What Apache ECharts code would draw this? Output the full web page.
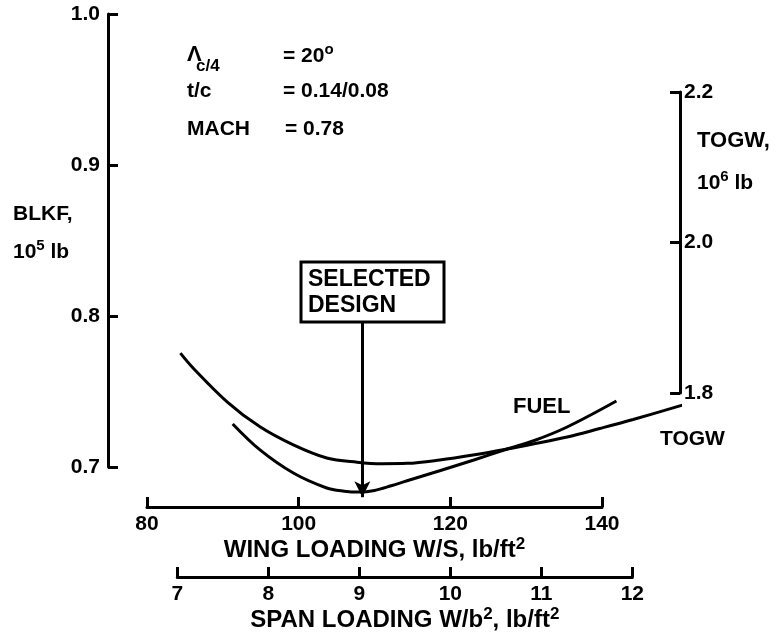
<!DOCTYPE html>
<html>
<head>
<meta charset="utf-8">
<script src="https://cdn.jsdelivr.net/npm/echarts@6/dist/echarts.min.js"></script>
<style>
html,body{margin:0;padding:0;background:#fff;}
#chart{width:778px;height:634px;}
</style>
</head>
<body>
<div id="chart"></div>
<script>
// ---------------- DATA ----------------
// TOGW curve (right axis, 10^6 lb) vs wing loading W/S (lb/ft^2)
const togwWingLoading = [84.4, 86.1, 90.6, 94.9, 99.3, 103.7, 107.7, 111.0, 114.3, 118.6, 123.0, 127.5, 130.9, 135.4, 139.7, 144.1, 150.7];
const togwValues      = [1.853, 1.833, 1.788, 1.755, 1.731, 1.7136, 1.708, 1.706, 1.7065, 1.711, 1.7176, 1.7256, 1.7322, 1.7415, 1.7528, 1.7648, 1.7841];
// Block fuel curve (left axis, 10^5 lb) vs wing loading
const fuelWingLoading = [91.3, 94.9, 99.3, 103.7, 106.0, 108.0, 110.0, 112.2, 114.3, 118.6, 123.0, 127.5, 130.9, 135.4, 141.9];
const fuelValues      = [0.7285, 0.7113, 0.6960, 0.6861, 0.6840, 0.6834, 0.6845, 0.6876, 0.6909, 0.6975, 0.7045, 0.7119, 0.7172, 0.7265, 0.7437];
// Selected design annotation
const selectedWingLoading = 108.4;
const selectedArrowBlkf = [0.796, 0.680];
// Axis ranges / ticks
const blkfAxis = {min: 0.7, max: 1.0, interval: 0.1};
const togwAxis = {min: 1.8, max: 2.2, interval: 0.2};
const wingAxis = {min: 80, max: 140, interval: 20};
const spanAxis = {min: 7, max: 12, interval: 1};
const spanToWing = 12; // W/S = 12 * W/b^2 on the secondary scale

// ---------------- LAYOUT ----------------
const FONT = '"Liberation Sans", Arial, sans-serif';
const px80 = 147, px140 = 602;
const pxPerUnit = (px140 - px80) / (wingAxis.max - wingAxis.min);
const leftAxisX = 108, rightAxisX = 680;
const plotW = rightAxisX - leftAxisX;
const xMinPlot = wingAxis.min - (px80 - leftAxisX) / pxPerUnit;
const xMaxPlot = xMinPlot + plotW / pxPerUnit;
const spanLeft = px80 + (spanAxis.min * spanToWing - wingAxis.min) * pxPerUnit;
const spanW = (spanAxis.max - spanAxis.min) * spanToWing * pxPerUnit;
const blkfTop = 14, blkfBottom = 467, dataBottom = 507;
const blkfPerPx = (blkfAxis.max - blkfAxis.min) / (blkfBottom - blkfTop);
const dataYMin = blkfAxis.min - (dataBottom - blkfBottom) * blkfPerPx;

const chart = echarts.init(document.getElementById('chart'), null, {renderer: 'canvas'});

const lbl = {color: '#000', fontFamily: FONT, fontWeight: 'bold', fontSize: 21};
const axLine = {show: true, lineStyle: {color: '#000', width: 3}};
const axTick = {show: true, inside: true, length: 10, lineStyle: {color: '#000', width: 3}};
const supRich = {
  a: {fontFamily: FONT, fontWeight: 'bold', fontSize: 24, color: '#000'},
  s: {fontFamily: FONT, fontWeight: 'bold', fontSize: 17, color: '#000', padding: [0, 0, 12, 0]}
};
function richStyle(size, supSize, lift) {
  return {
    a: {fontFamily: FONT, fontWeight: 'bold', fontSize: size, fill: '#000'},
    s: {fontFamily: FONT, fontWeight: 'bold', fontSize: supSize, fill: '#000', padding: [0, 0, lift, 0]}
  };
}
function txt(x, y, text, size, extra) {
  return Object.assign({
    type: 'text', x: x, y: y, silent: true,
    style: {text: text, fill: '#000', font: 'bold ' + size + 'px ' + FONT, verticalAlign: 'middle', align: 'left'}
  }, extra || {});
}
function rtxt(x, y, text, size, supSize, lift) {
  return {type: 'text', x: x, y: y, silent: true,
    style: {text: text, verticalAlign: 'middle', align: 'left', rich: richStyle(size, supSize, lift)}};
}

const option = {
  animation: false,
  backgroundColor: '#fff',
  grid: [
    {left: leftAxisX, top: blkfTop, width: plotW, height: blkfBottom - blkfTop, outerBoundsMode: 'none'},
    {left: leftAxisX, top: 92, width: plotW, height: 301, outerBoundsMode: 'none'},
    {left: px80, top: 400, width: px140 - px80, height: dataBottom - 400, outerBoundsMode: 'none'},
    {left: spanLeft, top: 500, width: spanW, height: 77, outerBoundsMode: 'none'},
    {left: leftAxisX, top: blkfTop, width: plotW, height: dataBottom - blkfTop, outerBoundsMode: 'none'}
  ],
  xAxis: [
    {gridIndex: 0, type: 'value', min: xMinPlot, max: xMaxPlot, show: false},
    {gridIndex: 1, type: 'value', min: xMinPlot, max: xMaxPlot, show: false},
    {gridIndex: 2, type: 'value', min: wingAxis.min, max: wingAxis.max, interval: wingAxis.interval,
     axisLine: axLine, axisTick: axTick, splitLine: {show: false},
     axisLabel: Object.assign({margin: 7}, lbl),
     name: '{a|WING LOADING W/S, lb/ft}{s|2}', nameLocation: 'middle', nameGap: 29,
     nameTextStyle: {rich: supRich}},
    {gridIndex: 3, type: 'value', min: spanAxis.min, max: spanAxis.max, interval: spanAxis.interval,
     axisLine: axLine, axisTick: axTick, splitLine: {show: false},
     axisLabel: Object.assign({margin: 7}, lbl),
     name: '{a|SPAN LOADING W/b}{s|2}{a|, lb/ft}{s|2}', nameLocation: 'middle', nameGap: 29,
     nameTextStyle: {rich: supRich}},
    {gridIndex: 4, type: 'value', min: xMinPlot, max: xMaxPlot, show: false}
  ],
  yAxis: [
    {gridIndex: 0, type: 'value', position: 'left', min: blkfAxis.min, max: blkfAxis.max, interval: blkfAxis.interval,
     axisLine: axLine, axisTick: axTick, splitLine: {show: false},
     axisLabel: Object.assign({margin: 8, formatter: v => v.toFixed(1)}, lbl)},
    {gridIndex: 1, type: 'value', position: 'right', min: togwAxis.min, max: togwAxis.max, interval: togwAxis.interval,
     axisLine: axLine, axisTick: axTick, splitLine: {show: false},
     axisLabel: Object.assign({margin: 4, formatter: v => v.toFixed(1)}, lbl)},
    {gridIndex: 2, type: 'value', show: false},
    {gridIndex: 3, type: 'value', show: false},
    {gridIndex: 4, type: 'value', min: dataYMin, max: blkfAxis.max, show: false}
  ],
  series: [
    {type: 'line', name: 'TOGW', xAxisIndex: 1, yAxisIndex: 1, clip: false,
     data: togwWingLoading.map((x, i) => [x, togwValues[i]]),
     smooth: 0.35, showSymbol: false, lineStyle: {color: '#000', width: 3}},
    {type: 'line', name: 'FUEL', xAxisIndex: 4, yAxisIndex: 4, clip: false,
     data: fuelWingLoading.map((x, i) => [x, fuelValues[i]]),
     smooth: 0.35, showSymbol: false, lineStyle: {color: '#000', width: 3},
     markLine: {
       silent: true, symbol: ['none', 'arrow'], symbolSize: [12, 16], precision: 3,
       lineStyle: {color: '#000', width: 3, type: 'solid'},
       label: {show: false},
       data: [[{coord: [selectedWingLoading, selectedArrowBlkf[0]]}, {coord: [selectedWingLoading, selectedArrowBlkf[1]]}]]
     }}
  ],
  graphic: [
    // parameters
    txt(187, 55, 'Λ', 22),
    txt(196, 66, 'c/4', 17),
    rtxt(283, 56, '{a|= 20}{s|o}', 21, 15, 12),
    txt(187, 91, 't/c', 21),
    txt(283, 91, '= 0.14/0.08', 21),
    txt(187, 129, 'MACH', 21),
    txt(285, 129, '= 0.78', 21),
    // left axis name
    txt(13, 214, 'BLKF,', 21),
    rtxt(13, 252, '{a|10}{s|5}{a| lb}', 21, 15, 12),
    // right axis name
    txt(697, 141, 'TOGW,', 22),
    rtxt(697, 183, '{a|10}{s|6}{a| lb}', 21, 15, 12),
    // curve labels
    txt(513, 407, 'FUEL', 22),
    txt(660, 439, 'TOGW', 21),
    // selected design box
    {type: 'rect', shape: {x: 301, y: 262, width: 143, height: 60}, silent: true, z: 10,
     style: {fill: '#fff', stroke: '#000', lineWidth: 3}},
    txt(308, 280, 'SELECTED', 23, {z: 11}),
    txt(308, 306, 'DESIGN', 23, {z: 11})
  ]
};
chart.setOption(option);
</script>
</body>
</html>
